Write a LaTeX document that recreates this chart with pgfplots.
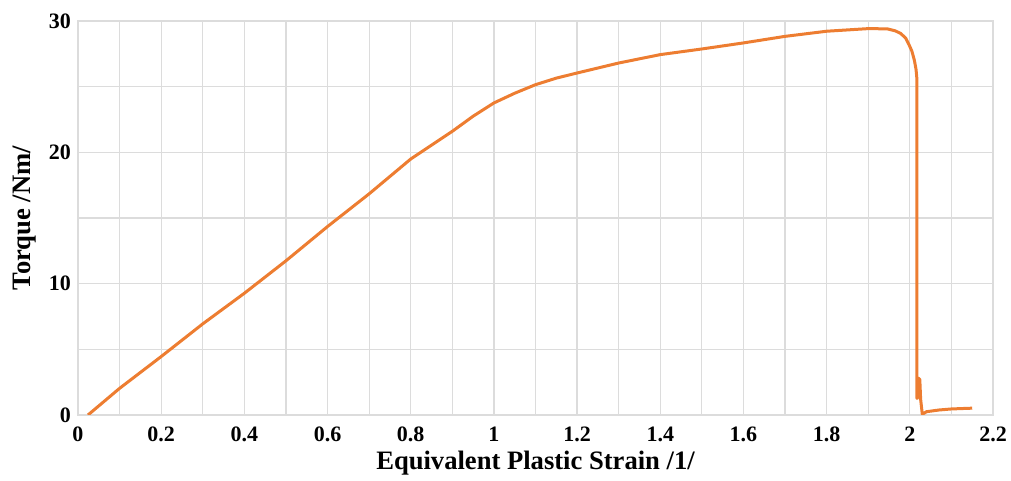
\documentclass[border=0pt]{standalone}
\usepackage{fontspec}
\setmainfont{Liberation Serif}
\usepackage{pgfplots}
\pgfplotsset{compat=1.18}

\definecolor{curve}{HTML}{ED7D31}
\definecolor{gridgray}{HTML}{DCDCDC}

\begin{document}
\begin{tikzpicture}
\useasboundingbox (0,0) rectangle (505.5pt,240.5pt);
\begin{axis}[
    at={(39pt,33pt)}, anchor=south west,
    scale only axis,
    width=457.5pt, height=197pt,
    xmin=0, xmax=2.2, ymin=0, ymax=30,
    xtick={0,0.2,0.4,0.6,0.8,1,1.2,1.4,1.6,1.8,2,2.2},
    ytick={0,10,20,30},
    minor x tick num=1, minor y tick num=1,
    grid=both,
    major grid style={draw=gridgray, line width=0.6pt},
    minor grid style={draw=gridgray, line width=0.6pt},
    axis line style={draw=gridgray, line width=0.6pt},
    major tick length=0pt, minor tick length=0pt,
    /pgf/number format/assume math mode=true,
    ticklabel style={font=\fontsize{11}{12}\selectfont\bfseries},
    xticklabel style={anchor=north, yshift=-2.5pt},
    yticklabel style={anchor=east, xshift=0pt},
    xlabel={Equivalent Plastic Strain /1/},
    ylabel={Torque /Nm/},
    label style={font=\fontsize{13.3}{14}\selectfont\bfseries},
    xlabel style={at={(axis description cs:0.5,0)}, anchor=center, yshift=-24pt},
    ylabel style={at={(axis description cs:0,0.5)}, anchor=center, yshift=26.5pt},
]
% torque vs strain
\addplot[draw=curve, line width=1.5pt, line join=round] coordinates {
    (0.024,0) (0.1,2.03) (0.2,4.45) (0.3,6.94) (0.4,9.27) (0.5,11.74)
    (0.6,14.35) (0.7,16.84) (0.8,19.49) (0.9,21.6) (0.95,22.75) (1.0,23.76)
    (1.05,24.5) (1.1,25.15) (1.15,25.65) (1.2,26.04) (1.3,26.8) (1.4,27.44)
    (1.5,27.87) (1.6,28.33) (1.7,28.83) (1.8,29.22) (1.9,29.42) (1.946,29.4)
    (1.965,29.25) (1.978,29.05) (1.99,28.7) (1.998,28.2) (2.005,27.7)
    (2.011,27.0) (2.015,26.3) (2.017,25.6)
    (2.017,1.27) (2.019,1.3) (2.021,2.8) (2.024,2.7) (2.026,1.2) (2.030,0.05)
    (2.04,0.25) (2.07,0.38) (2.1,0.46) (2.15,0.52)
};
\end{axis}
\end{tikzpicture}
\end{document}
